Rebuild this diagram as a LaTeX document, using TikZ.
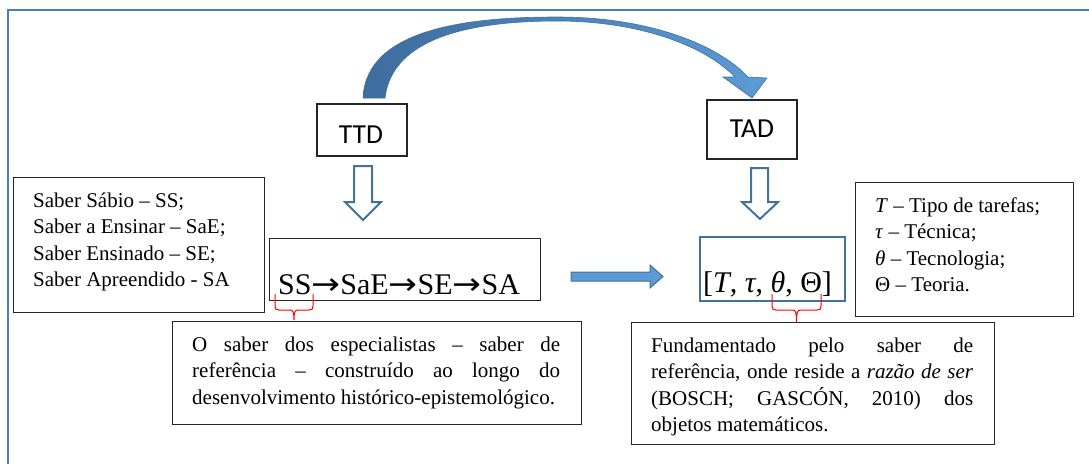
\documentclass[tikz,border=0pt]{standalone}
\usepackage{fontspec}
\setmainfont{Liberation Serif}
\newfontfamily\calfont{Carlito}
\newfontfamily\symfont{DejaVu Sans}
\definecolor{frameblue}{HTML}{4A7EBB}
\definecolor{arrowline}{HTML}{41719C}
\definecolor{arrowfill}{HTML}{5B9BD5}
\definecolor{curveL}{HTML}{3E6C9E}
\definecolor{curveR}{HTML}{5B9BD5}
\definecolor{boxline}{HTML}{262626}
\newcommand{\gsp}{\hspace{0.25em}}
\newcommand{\chainarrow}{{\symfont\scalebox{1.15}[1]{→}}}
\begin{document}
\begin{tikzpicture}[x=1pt,y=-1pt,
  box/.style={draw=boxline, line width=1.2pt, rectangle, inner sep=0pt, anchor=north west},
  cbox/.style={draw=boxline, line width=1.2pt, rectangle, inner sep=0pt},
  bluebox/.style={draw=arrowline, line width=2pt, rectangle, inner sep=0pt, anchor=north west},
  txt/.style={anchor=base west, inner sep=0pt, align=left, font=\fontsize{21}{26.5}\selectfont},
  bigtxt/.style={anchor=base west, inner sep=0pt, font=\fontsize{30}{36}\selectfont},
  sanslbl/.style={anchor=base, inner sep=0pt, font=\calfont\fontsize{27.5}{30}\selectfont},
  hollow/.style={draw=arrowline, line width=2pt, fill=white, line join=miter},
  blockarrow/.style={draw=arrowline, line width=1pt, fill=arrowfill, line join=miter},
  curvearrow/.style={left color=curveL, right color=curveR, draw=arrowline, line width=0.6pt},
  bracestyle/.style={draw=red, line width=1pt}
]
\useasboundingbox (0,0) rectangle (1089,464);
% outer frame
\draw[frameblue, line width=2.5pt] (8,464) -- (8,10) -- (1089,10);

% TTD and TAD
\node[cbox, minimum width=90pt, minimum height=52pt] (ttd) at (362,130) {};
\node[sanslbl] (ttdtxt) at (361,143) {TTD};
\node[cbox, minimum width=90pt, minimum height=59pt] (tad) at (752,129.5) {};
\node[sanslbl] (tadtxt) at (752,137) {TAD};

% curved arrow from TTD to TAD
\path[curvearrow]
 (363,98) .. controls (366,28) and (470,17) .. (557,17)
 .. controls (650,17) and (718,45) .. (748,77)
 -- (767,78) -- (752,98) -- (723,77) -- (735,77)
 .. controls (705,46) and (640,21) .. (557,21)
 .. controls (470,21) and (392,38) .. (385,98) -- cycle;

% hollow down arrows
\path[hollow] (354,166) -- (372,166) -- (372,202) -- (381,202) -- (363,220) -- (345,202) -- (354,202) -- cycle;
\path[hollow] (751,168) -- (768,168) -- (768,202) -- (778,202) -- (760,219) -- (742,202) -- (751,202) -- cycle;

% left list (anchor = baseline of last line)
\node[box, minimum width=251pt, minimum height=135pt] (lbox) at (13,177) {};
\node[txt] (ltext) at (33,286.5) {Saber Sábio – SS;\\Saber a Ensinar – SaE;\\Saber Ensinado – SE;\\Saber Apreendido - SA};

% chain
\node[box, minimum width=271pt, minimum height=62pt] (chainbox) at (269,238) {};
\node[bigtxt] (chaintxt) at (278,294) {SS\chainarrow SaE\chainarrow SE\chainarrow SA};

% horizontal arrow
\path[blockarrow] (571,272) -- (650,272) -- (650,265) -- (663,276.5) -- (650,288) -- (650,281) -- (571,281) -- cycle;

% tuple
\node[bluebox, minimum width=145pt, minimum height=64pt] (tuplebox) at (699,236) {};
\node[bigtxt] (tupletxt) at (703,292) {[\textit{T},\gsp\textit{τ},\gsp\textit{θ},\gsp Θ]};

% right list
\node[box, minimum width=218pt, minimum height=134pt] (rbox) at (855,182) {};
\node[txt] (rtext) at (875,291.5) {\textit{T} – Tipo de tarefas;\\\textit{τ} – Técnica;\\\textit{θ} – Tecnologia;\\Θ – Teoria.};

% braces
\path[bracestyle] (275,294) -- (275,306) .. controls (275,309) and (276,310) .. (279,310) -- (290,310)
  .. controls (293,310) and (294,312) .. (294,320)
  .. controls (294,312) and (295,310) .. (298,310) -- (309,310)
  .. controls (312,310) and (313,309) .. (313,306) -- (313,294);
\path[bracestyle] (772,294) -- (772,306) .. controls (772,309) and (773,310) .. (776,310) -- (792.5,310)
  .. controls (795.5,310) and (796.5,312) .. (796.5,322)
  .. controls (796.5,312) and (797.5,310) .. (800.5,310) -- (817,310)
  .. controls (820,310) and (821,309) .. (821,306) -- (821,294);

% bottom-left note
\node[box, minimum width=409pt, minimum height=103pt] (blbox) at (172,321) {};
\node[txt] (bltext) at (192,404) {\makebox[368pt][s]{O saber dos especialistas – saber de}\\\makebox[368pt][s]{referência – construído ao longo do}\\desenvolvimento histórico-epistemológico.};

% bottom-right note
\node[box, minimum width=363pt, minimum height=122pt] (brbox) at (631,322) {};
\node[txt] (brtext) at (651,431.5) {\makebox[322pt][s]{Fundamentado pelo saber de}\\\makebox[322pt][s]{referência, onde reside a \textit{razão de ser}}\\\makebox[322pt][s]{(BOSCH; GASCÓN, 2010) dos}\\objetos matemáticos.};
\end{tikzpicture}
\end{document}
